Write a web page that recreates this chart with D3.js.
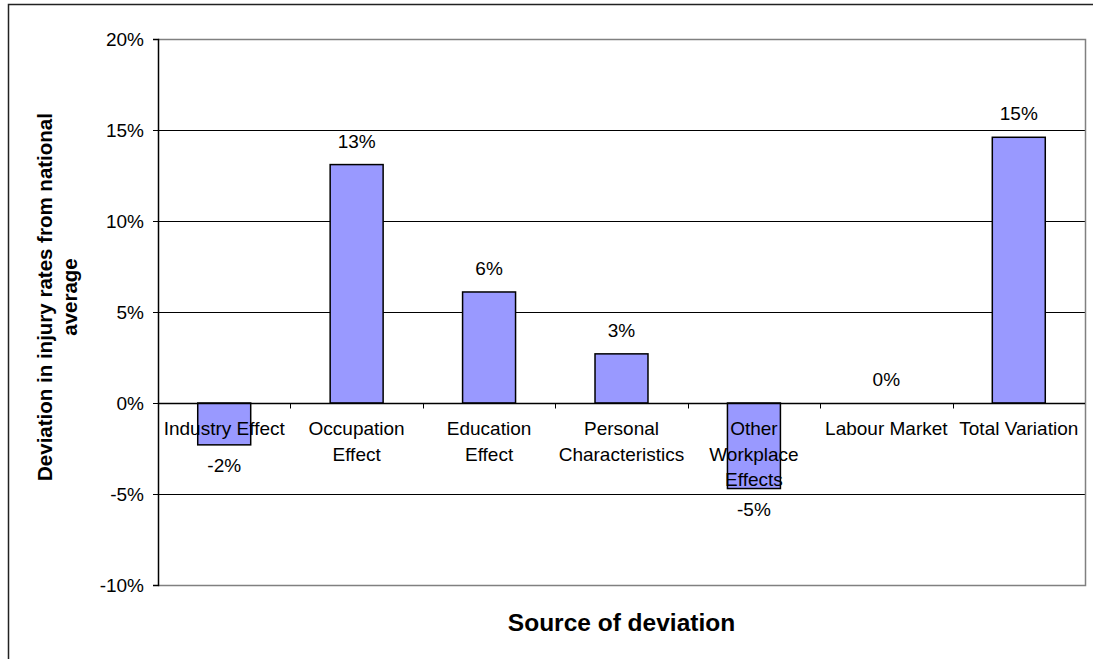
<!DOCTYPE html>
<html>
<head>
<meta charset="utf-8">
<script src="https://cdn.jsdelivr.net/npm/d3@7"></script>
<style>
  html, body { margin: 0; padding: 0; background: #fff; }
  svg { display: block; }
  text { font-family: "Liberation Sans", Arial, sans-serif; fill: #000; }
</style>
</head>
<body>
<svg id="chart" width="1093" height="659"></svg>
<script>
// Sources of deviation (each label line listed separately)
const categories = [
  ["Industry Effect"],
  ["Occupation", "Effect"],
  ["Education", "Effect"],
  ["Personal", "Characteristics"],
  ["Other", "Workplace", "Effects"],
  ["Labour Market"],
  ["Total Variation"]
];
// Deviation in injury rates from the national average
const deviation = [-0.023, 0.131, 0.061, 0.027, -0.047, 0.0, 0.146];
const yTicks = [-0.10, -0.05, 0, 0.05, 0.10, 0.15, 0.20];

const svg = d3.select("#chart");
const W = 1093, H = 659;
const plot = { left: 158, right: 1085, top: 39, bottom: 585 };
const FS = "19px";

// Outer chart frame
svg.append("rect")
  .attr("x", 8.5).attr("y", 4.5)
  .attr("width", W + 10).attr("height", H + 10)
  .attr("fill", "#fff").attr("stroke", "#222").attr("stroke-width", 1.5);

const keys = categories.map(c => c.join(" "));
const x = d3.scaleBand().domain(keys).range([plot.left, plot.right]);
const y = d3.scaleLinear().domain([-0.10, 0.20]).range([plot.bottom, plot.top]);
const fmt = d3.format(".0%");
const pct = v => fmt(v).replace("\u2212", "-");

// Horizontal gridlines
svg.append("g")
  .selectAll("line")
  .data(yTicks.filter(t => t > -0.10 && t < 0.20 && t !== 0))
  .join("line")
  .attr("x1", plot.left).attr("x2", plot.right)
  .attr("y1", d => Math.round(y(d)) + 0.5).attr("y2", d => Math.round(y(d)) + 0.5)
  .attr("stroke", "#000").attr("stroke-width", 1);

// Plot area border (top, right, bottom)
svg.append("path")
  .attr("d", `M${plot.left},${plot.top + 0.5}H${plot.right + 0.5}V${plot.bottom + 0.5}H${plot.left}`)
  .attr("fill", "none").attr("stroke", "#808080").attr("stroke-width", 1.5);

// Bars
const bw = x.bandwidth() * 0.4;
svg.append("g")
  .selectAll("rect")
  .data(deviation.map((v, i) => ({ v, k: keys[i] })).filter(d => d.v !== 0))
  .join("rect")
  .attr("x", d => x(d.k) + (x.bandwidth() - bw) / 2)
  .attr("y", d => y(Math.max(0, d.v)))
  .attr("width", bw)
  .attr("height", d => Math.abs(y(d.v) - y(0)))
  .attr("fill", "#9999FF")
  .attr("stroke", "#000").attr("stroke-width", 1.5);

// Y axis
const yAxis = d3.axisLeft(y).tickValues(yTicks).tickFormat(pct).tickSize(5).tickPadding(9);
const gy = svg.append("g").attr("transform", `translate(${plot.left},0)`).call(yAxis);
gy.select(".domain").attr("stroke", "#000").attr("stroke-width", 1.5);
gy.selectAll(".tick line").attr("stroke", "#000");
gy.selectAll(".tick text").style("font-size", FS).attr("font-family", null);

// Zero line with category boundary ticks
const z = Math.round(y(0)) + 0.5;
svg.append("line")
  .attr("x1", plot.left).attr("x2", plot.right)
  .attr("y1", z).attr("y2", z)
  .attr("stroke", "#000").attr("stroke-width", 1.5);
svg.append("g")
  .selectAll("line")
  .data(keys.slice(1))
  .join("line")
  .attr("x1", d => Math.round(x(d)) + 0.5).attr("x2", d => Math.round(x(d)) + 0.5)
  .attr("y1", z).attr("y2", z + 5)
  .attr("stroke", "#000");

// Category labels, drawn over the bars
const lineH = 25.5;
const cat = svg.append("g")
  .selectAll("text")
  .data(categories)
  .join("text")
  .attr("text-anchor", "middle")
  .style("font-size", FS)
  .attr("x", (d, i) => x(keys[i]) + x.bandwidth() / 2)
  .attr("y", 435);
cat.selectAll("tspan")
  .data((d, i) => d.map(line => ({ line, cx: x(keys[i]) + x.bandwidth() / 2 })))
  .join("tspan")
  .attr("x", d => d.cx)
  .attr("dy", (d, j) => j === 0 ? 0 : lineH)
  .text(d => d.line);

// Value labels
svg.append("g")
  .selectAll("text")
  .data(deviation)
  .join("text")
  .attr("text-anchor", "middle")
  .style("font-size", FS)
  .attr("x", (d, i) => x(keys[i]) + x.bandwidth() / 2)
  .attr("y", d => d >= 0 ? y(d) - 17 : y(d) + 27)
  .text(d => pct(d));

// Axis titles
svg.append("text")
  .attr("x", (plot.left + plot.right) / 2)
  .attr("y", 631)
  .attr("text-anchor", "middle")
  .style("font-size", "24.5px").style("font-weight", "bold")
  .text("Source of deviation");

const yt = svg.append("text")
  .attr("transform", "translate(0,297) rotate(-90)")
  .attr("text-anchor", "middle")
  .style("font-size", "20.5px").style("font-weight", "bold");
yt.append("tspan").attr("x", 0).attr("y", 52).text("Deviation in injury rates from national");
yt.append("tspan").attr("x", 0).attr("y", 77).text("average");
</script>
</body>
</html>
